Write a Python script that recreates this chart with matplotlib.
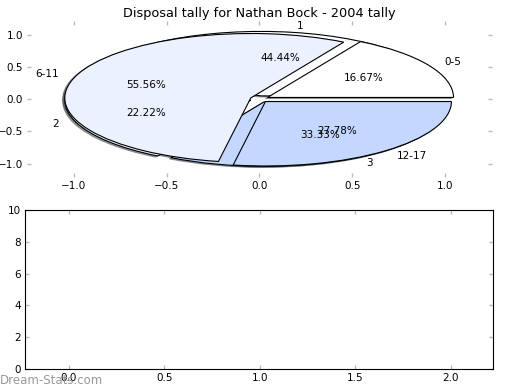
import matplotlib
matplotlib.use("Agg")
import matplotlib.pyplot as plt

# data
age_labels = ['0-5', '6-11', '12-17']
age_counts = [3, 10, 5]
group_labels = ['1', '2', '3']
group_counts = [4, 2, 3]
slice_colors = ['#FFFFFF', '#EBF1FF', '#C4D7FF']

plt.rcParams['font.size'] = 7.5

fig = plt.figure(figsize=(5.2, 3.9), dpi=100)
ax1 = fig.add_axes([0.052, 0.546, 0.894, 0.40])
ax2 = fig.add_axes([0.048, 0.054, 0.90, 0.407])

wp = {'edgecolor': 'black', 'linewidth': 0.8}
shade = {'ox': -0.008, 'oy': -0.012}

# second pie goes underneath, first one on top
ax1.pie(group_counts, labels=group_labels, colors=slice_colors,
        explode=[0.05] * 3, autopct='%.2f%%', shadow=shade,
        wedgeprops=wp)
ax1.pie(age_counts, labels=age_labels, colors=slice_colors,
        explode=[0.05] * 3, autopct='%.2f%%', shadow=shade,
        wedgeprops=wp)
ax1.set_aspect('auto')
ax1.set_frame_on(False)
ax1.set_xlim(-1.25, 1.25)
ax1.set_ylim(-1.21, 1.21)
ax1.set_xticks([-1.0, -0.5, 0.0, 0.5, 1.0])
ax1.set_yticks([-1.0, -0.5, 0.0, 0.5, 1.0])
ax1.set_title('Disposal tally for Nathan Bock - 2004 tally', fontsize=9.3, pad=3)

ax2.set_xlim(-0.23, 2.22)
ax2.set_ylim(0, 10)
ax2.set_xticks([0.0, 0.5, 1.0, 1.5, 2.0])
ax2.set_yticks([0, 2, 4, 6, 8, 10])

for ax in (ax1, ax2):
    ax.tick_params(direction='in', length=3, width=1, color='#bbbbbb',
                   top=True, right=True, labelsize=7.5, pad=3)

fig.text(0.0, 0.008, 'Dream-Stats.com', color='#999999', fontsize=8.5,
         ha='left', va='bottom')

fig.savefig('out.png', dpi=100)
